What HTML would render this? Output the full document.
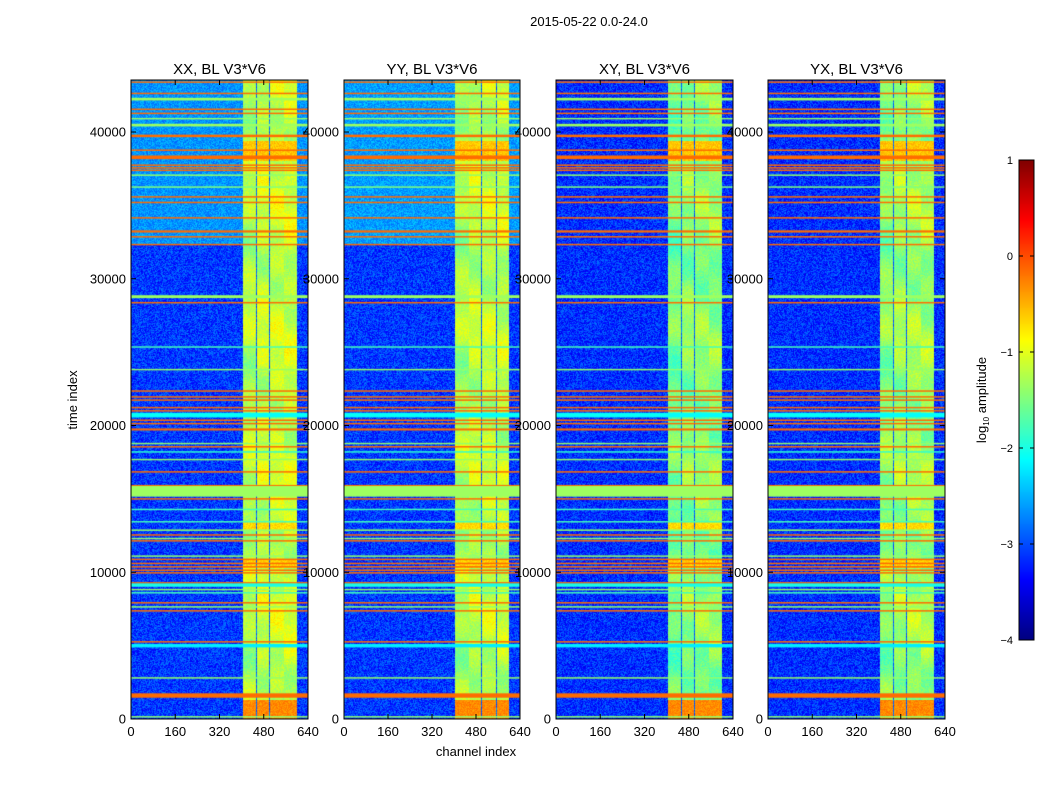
<!DOCTYPE html>
<html><head><meta charset="utf-8">
<style>
body{margin:0;background:#fff;}
#root{position:relative;width:1050px;height:800px;background:#fff;font-family:"Liberation Sans","DejaVu Sans",sans-serif;overflow:hidden;}
canvas{position:absolute;}
svg{position:absolute;left:0;top:0;}
</style></head>
<body>
<div id="root">
<canvas id="c0" width="177" height="639" style="left:131px;top:80px"></canvas>
<canvas id="c1" width="176" height="639" style="left:344px;top:80px"></canvas>
<canvas id="c2" width="177" height="639" style="left:556px;top:80px"></canvas>
<canvas id="c3" width="177" height="639" style="left:768px;top:80px"></canvas>
<canvas id="cb" width="15" height="480" style="left:1019px;top:160px"></canvas>
<svg id="ov" width="1050" height="800"></svg>
</div>
<script>
// ---- data ----
const panelTitles = ["XX, BL V3*V6","YY, BL V3*V6","XY, BL V3*V6","YX, BL V3*V6"];
const xTicks = [0,160,320,480,640];
const yTicks = [0,10000,20000,30000,40000];
const cbTicks = [1,0,-1,-2,-3,-4];
const tMax = 43544, chMax = 640;
const lowerLevel = [-3.1,-3.1,-3.15,-3.15];
const upperLevel = [-2.65,-2.6,-3.15,-3.15];
const upperStart = 32400;
const bandLevel = [-1.15,-1.2,-1.45,-1.35];
// channel bands [start,end]
const bandStart = [405,456,502,555];
const bandEnd = [453,499,552,600];
// hot regions inside bands [tStart,tEnd,level]
const hotStart = [0,38000,10300,12900];
const hotEnd = [1300,39400,10900,13400];
const hotLevel = [-0.3,-0.6,-0.65,-0.7];
// horizontal stripes [tStart,tEnd,level]
const stripeStart = [43350,42580,42150,41500,41220,40890,40380,39650,38730,38150,37720,37540,37370,37020,36240,35550,35170,34120,33150,32830,32300,28680,28320,25330,23790,22310,21920,21700,21200,20960,20550,20330,20110,19660,18740,18510,18180,17660,16810,15900,15150,14970,14250,13410,12840,12500,12270,12110,11070,10840,10570,10340,10110,9930,9250,9010,8790,8570,7880,7610,7330,5230,4880,2770,1450,120];
const stripeEnd   = [43450,42680,42330,41600,41320,40960,40560,39820,38810,38400,37790,37610,37440,37110,36300,35630,35250,34200,33300,32910,32380,28880,28420,25400,23860,22400,22000,21780,21270,21050,20870,20410,20180,19800,18820,18600,18250,17730,16890,15950,15880,15050,14330,13490,12920,12590,12350,12190,11150,10930,10650,10420,10190,10010,9330,9240,8870,8650,7970,7690,7420,5310,5110,2850,1750,200];
const stripeLevel = [-0.15,-0.15,-1.35,-0.15,-0.15,-1.4,-1.35,-0.15,-0.15,-0.15,-0.15,-0.15,-0.15,-1.4,-1.5,-0.15,-0.15,-0.15,-0.15,-0.15,-0.15,-1.35,-0.15,-1.8,-1.4,-0.15,-0.15,-0.15,-0.15,-0.15,-2.1,-0.15,-0.15,-0.15,-1.4,-0.15,-1.9,-1.4,-0.15,-0.15,-1.35,-0.15,-1.8,-1.8,-1.4,-0.15,-1.4,-0.15,-1.4,-0.15,-0.15,-0.15,-0.15,-0.15,-0.15,-2.0,-1.4,-1.8,-0.15,-1.4,-0.15,-0.15,-2.2,-1.4,-0.15,-1.4];

// ---- helpers ----
const vmin=-4, vmax=1;
function jet(v){
  let x=(v-vmin)/(vmax-vmin); x=Math.max(0,Math.min(1,x));
  const c=a=>Math.max(0,Math.min(1,a));
  return [c(1.5-Math.abs(4*x-3))*255|0, c(1.5-Math.abs(4*x-2))*255|0, c(1.5-Math.abs(4*x-1))*255|0];
}
function hash(a,b,s){let h=(a*374761393+b*668265263+s*1442695041)|0;h=(h^(h>>>13))*1274126177|0;h=h^(h>>>16);return ((h>>>0)%10000)/10000;}
const W=177,H=639;
function yScale(t){return H - t/tMax*H;}
function xScale(ch,w){return ch/chMax*w;}

for(let p=0;p<4;p++){
  const cv=document.getElementById('c'+p), ctx=cv.getContext('2d'), w=cv.width;
  const img=ctx.createImageData(w,H);
  for(let py=0;py<H;py++){
    const t=(H-py-0.5)/H*tMax;
    for(let px=0;px<w;px++){
      const ch=(px+0.5)/w*chMax;
      const n=hash(px,py,p+1)-0.5;
      const up=t>upperStart;
      let v=(up?upperLevel[p]:lowerLevel[p])+n*(up&&p<2?0.5:0.7);
      for(let b=0;b<bandStart.length;b++){
        if(ch>=bandStart[b]&&ch<bandEnd[b]){
          v=bandLevel[p]+n*0.35+0.3*Math.sin(t/900+b*1.7)*Math.sin(t/2300+b)-(b===0?0.1:0);
          for(let k=0;k<hotStart.length;k++) if(t>=hotStart[k]&&t<hotEnd[k]) v=hotLevel[k]+n*0.3;
        } else if(b+1<bandStart.length&&ch>=bandEnd[b]&&ch<bandStart[b+1]){ v=-2.9+n*0.5; }
      }
      const c=jet(v),i=(py*w+px)*4;
      img.data[i]=c[0];img.data[i+1]=c[1];img.data[i+2]=c[2];img.data[i+3]=255;
    }
  }
  ctx.putImageData(img,0,0);
  for(let s=0;s<stripeStart.length;s++){
    const y1=yScale(stripeEnd[s]), y2=yScale(stripeStart[s]);
    const c=jet(stripeLevel[s]);
    ctx.fillStyle='rgb('+c.join(',')+')';
    ctx.fillRect(0,y1,w,Math.max(1.5,y2-y1));
  }
}
// colorbar
(function(){
  const cv=document.getElementById('cb'),ctx=cv.getContext('2d');
  for(let y=0;y<480;y++){const c=jet(vmax-(y+0.5)/480*(vmax-vmin));ctx.fillStyle='rgb('+c.join(',')+')';ctx.fillRect(0,y,15,1);}
})();

// ---- overlay axes ----
const NS='http://www.w3.org/2000/svg', ov=document.getElementById('ov');
function el(tag,attrs,txt){const e=document.createElementNS(NS,tag);for(const k in attrs)e.setAttribute(k,attrs[k]);if(txt!==undefined)e.textContent=txt;ov.appendChild(e);return e;}
const lefts=[131,344,556,768], widths=[177,176,177,177], top0=80;
for(let p=0;p<4;p++){
  const L=lefts[p],Wd=widths[p];
  const fr=el('rect',{x:L,y:top0,width:Wd,height:H,fill:'none',stroke:'#000','stroke-width':1});
  
  
  const tt=el('text',{x:L+Wd/2,y:74,'text-anchor':'middle','font-size':15},panelTitles[p]);
  
  
  xTicks.forEach(v=>{
    const x=L+xScale(v,Wd);
    el('line',{x1:x,y1:top0+H,x2:x,y2:top0+H-5,stroke:'#000'});
    el('line',{x1:x,y1:top0,x2:x,y2:top0+5,stroke:'#000'});
    const t=el('text',{x:x,y:736,'text-anchor':'middle','font-size':13},String(v));
    
    
  });
  yTicks.forEach(v=>{
    const y=top0+yScale(v);
    el('line',{x1:L,y1:y,x2:L+5,y2:y,stroke:'#000'});
    el('line',{x1:L+Wd,y1:y,x2:L+Wd-5,y2:y,stroke:'#000'});
    const t=el('text',{x:L-5,y:y+4.5,'text-anchor':'end','font-size':13},String(v));
    
    
  });
}
const st=el('text',{x:589,y:26,'text-anchor':'middle','font-size':13},'2015-05-22 0.0-24.0');


const xl=el('text',{x:476,y:756,'text-anchor':'middle','font-size':13},'channel index');


const yl=el('text',{x:77,y:400,'text-anchor':'middle','font-size':13,transform:'rotate(-90 77 400)'},'time index');


el('rect',{x:1019,y:160,width:15,height:480,fill:'none',stroke:'#000'});
cbTicks.forEach(v=>{
  const y=160+(vmax-v)/(vmax-vmin)*480;
  el('line',{x1:1019,y1:y,x2:1023,y2:y,stroke:'#000'});
  el('line',{x1:1034,y1:y,x2:1030,y2:y,stroke:'#000'});
  const t=el('text',{x:1013,y:y+4,'text-anchor':'end','font-size':11},(v<0?'\u2212':'')+Math.abs(v));
  
  
});
const cl=el('text',{x:986,y:400,'text-anchor':'middle','font-size':13,transform:'rotate(-90 986 400)'});


cl.innerHTML='log<tspan font-size="8" dy="3">10</tspan><tspan dy="-3"> amplitude</tspan>';
</script>
</body></html>
